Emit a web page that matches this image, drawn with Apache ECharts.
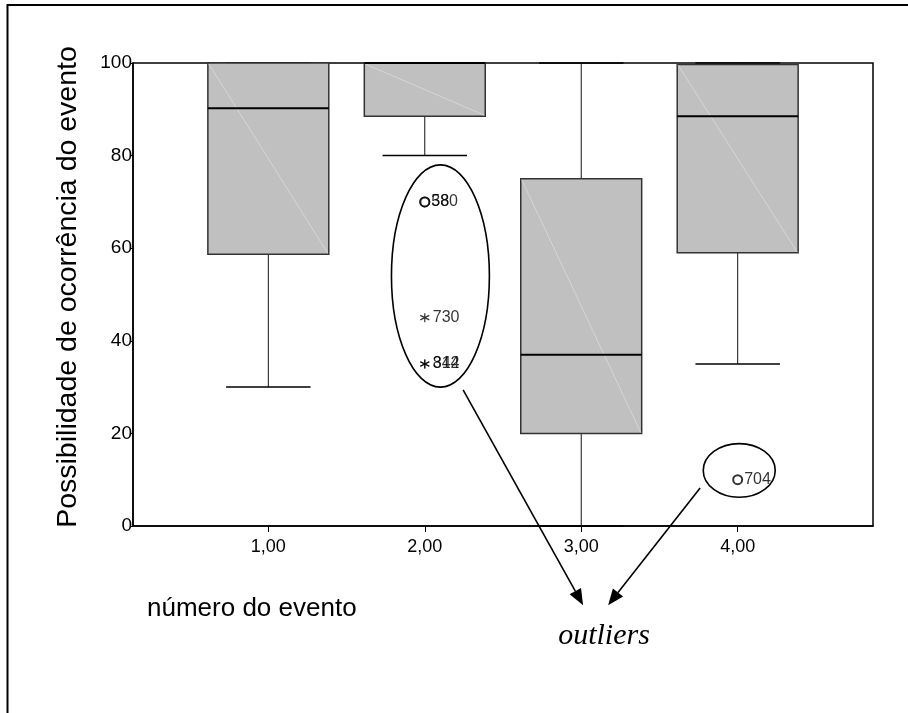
<!DOCTYPE html>
<html>
<head>
<meta charset="utf-8">
<style>
  html, body { margin: 0; padding: 0; background: #fff; }
  #chart { width: 908px; height: 713px; }
</style>
<script src="https://cdn.jsdelivr.net/npm/echarts@6/dist/echarts.min.js"></script>
</head>
<body>
<div id="chart"></div>
<script>
// Event numbers (x positions) and their tick labels
const eventIds = [1, 2, 3, 4];
const eventLabels = ['1,00', '2,00', '3,00', '4,00'];

// Five-number summary per event
const whiskerLow = [30, 80, 0, 35];
const quartile1 = [58.7, 88.5, 20, 59];
const medians = [90.2, 100, 37, 88.5];
const quartile3 = [100, 100, 75, 99.7];
const whiskerHigh = [100, 100, 100, 100];

// Outliers (circle) and extremes (asterisk): event, value, case number
const outlierEvent = [2, 2, 4];
const outlierValue = [70, 70, 10];
const outlierCase = ['580', '38', '704'];
const extremeEvent = [2, 2, 2];
const extremeValue = [45, 35, 35];
const extremeCase = ['730', '842', '314'];

// Y axis ticks
const yTicks = [0, 20, 40, 60, 80, 100];

const FONT = '"Liberation Sans", Arial, Helvetica, sans-serif';
const BOX_WIDTH = 0.773;
const CAP_WIDTH = 0.54;

const boxRows = eventIds.map((x, i) => [x, whiskerLow[i], quartile1[i], medians[i], quartile3[i], whiskerHigh[i]]);

function renderBox(params, api) {
  const x = api.value(0);
  const low = api.coord([x, api.value(1)]);
  const q1 = api.coord([x, api.value(2)]);
  const med = api.coord([x, api.value(3)]);
  const q3 = api.coord([x, api.value(4)]);
  const high = api.coord([x, api.value(5)]);
  const halfBox = api.size([BOX_WIDTH, 0])[0] / 2;
  const halfCap = api.size([CAP_WIDTH, 0])[0] / 2;
  const cx = q1[0];
  const line = (x1, y1, x2, y2, style) => ({
    type: 'line',
    shape: { x1, y1, x2, y2 },
    style: Object.assign({ stroke: '#000', lineWidth: 1 }, style)
  });
  const children = [];
  // whiskers
  if (api.value(1) < api.value(2)) {
    children.push(line(cx, q1[1], cx, low[1], { stroke: '#111' }));
  }
  children.push(line(cx - halfCap, low[1], cx + halfCap, low[1], { lineWidth: 1.5 }));
  if (api.value(5) > api.value(4)) {
    children.push(line(cx, high[1], cx, q3[1], { stroke: '#111' }));
  }
  children.push(line(cx - halfCap, high[1], cx + halfCap, high[1], { lineWidth: 1.5 }));
  // box
  children.push({
    type: 'rect',
    shape: { x: cx - halfBox, y: q3[1], width: halfBox * 2, height: q1[1] - q3[1] },
    style: { fill: '#c0c0c0', stroke: '#333', lineWidth: 1.5 }
  });
  // faint diagonal inside the box
  children.push(line(cx - halfBox + 1, q3[1] + 1, cx + halfBox - 1, q1[1] - 1, { stroke: '#d6d6d6', lineWidth: 1 }));
  // median
  children.push(line(cx - halfBox, med[1], cx + halfBox, med[1], { lineWidth: 2 }));
  return { type: 'group', children };
}

const chart = echarts.init(document.getElementById('chart'), null, { renderer: 'canvas' });

const asteriskPath = 'path://M5,0L5,10M0.67,2.5L9.33,7.5M0.67,7.5L9.33,2.5';

chart.setOption({
  animation: false,
  backgroundColor: '#fff',
  grid: {
    left: 133, right: 35, top: 63, bottom: 187,
    show: true, borderColor: '#000', borderWidth: 1.5, backgroundColor: 'transparent'
  },
  xAxis: {
    type: 'value',
    min: 0.135, max: 4.865,
    axisLine: { show: true, lineStyle: { color: '#000', width: 1.5 } },
    axisTick: { show: true, customValues: eventIds, length: 6, lineStyle: { color: '#000', width: 1 } },
    axisLabel: {
      customValues: eventIds,
      formatter: v => eventLabels[eventIds.indexOf(v)] || '',
      color: '#000', fontFamily: FONT, fontSize: 18, margin: 12
    },
    splitLine: { show: false }
  },
  yAxis: {
    type: 'value',
    min: 0, max: 100, interval: 20,
    axisLine: { show: true, lineStyle: { color: '#000', width: 1.5 } },
    axisTick: { show: true, length: 2, lineStyle: { color: '#000' } },
    axisLabel: {
      formatter: v => (yTicks.includes(v) ? String(v) : ''),
      color: '#000', fontFamily: FONT, fontSize: 19, margin: 1
    },
    splitLine: { show: false }
  },
  series: [
    {
      type: 'custom',
      renderItem: renderBox,
      clip: false,
      encode: { x: 0, y: [1, 2, 3, 4, 5] },
      data: boxRows,
      z: 2
    },
    {
      type: 'scatter',
      symbol: 'emptyCircle',
      symbolSize: 9,
      itemStyle: { color: '#000', borderWidth: 1 },
      label: {
        show: true, position: 'right', distance: 1,
        formatter: p => p.data[2],
        color: '#000', fontFamily: FONT, fontSize: 16
      },
      data: outlierEvent.map((x, i) => [x, outlierValue[i], outlierCase[i]]),
      z: 3
    },
    {
      type: 'scatter',
      symbol: asteriskPath,
      symbolSize: 9,
      itemStyle: { color: 'none', borderColor: '#000', borderWidth: 1.2 },
      label: {
        show: true, position: 'right', distance: 1,
        formatter: p => p.data[2],
        color: '#000', fontFamily: FONT, fontSize: 16
      },
      data: extremeEvent.map((x, i) => [x, extremeValue[i], extremeCase[i]]),
      z: 3
    }
  ]
});

// Annotations placed in data units: rings around outliers and arrows to the caption
const rings = [
  { center: [2.1, 54], radius: [0.313, 24] },
  { center: [4.01, 12], radius: [0.23, 5.8] }
];
const arrows = [
  { from: [2.245, 29.4], to: [3.012, -17.1] },
  { from: [3.76, 8.2], to: [3.172, -17.1] }
];

const px = p => chart.convertToPixel({ gridIndex: 0 }, p);
const graphics = [];

rings.forEach(r => {
  const c = px(r.center);
  const e = px([r.center[0] + r.radius[0], r.center[1] + r.radius[1]]);
  graphics.push({
    type: 'ellipse',
    shape: { cx: c[0], cy: c[1], rx: Math.abs(e[0] - c[0]), ry: Math.abs(e[1] - c[1]) },
    style: { fill: 'none', stroke: '#000', lineWidth: 1.6 },
    z: 10
  });
});

arrows.forEach(a => {
  const s = px(a.from);
  const t = px(a.to);
  const ang = Math.atan2(t[1] - s[1], t[0] - s[0]);
  const len = 16, half = 6.5;
  const bx = t[0] - len * Math.cos(ang), by = t[1] - len * Math.sin(ang);
  const nx = -Math.sin(ang) * half, ny = Math.cos(ang) * half;
  graphics.push({
    type: 'line',
    shape: { x1: s[0], y1: s[1], x2: bx, y2: by },
    style: { stroke: '#000', lineWidth: 1.6 },
    z: 10
  });
  graphics.push({
    type: 'polygon',
    shape: { points: [[t[0], t[1]], [bx + nx, by + ny], [bx - nx, by - ny]] },
    style: { fill: '#000' },
    z: 10
  });
});

// Outer frame (left and top edges)
graphics.push({
  type: 'polyline',
  shape: { points: [[7.5, 713], [7.5, 5], [908, 5]] },
  style: { stroke: '#000', lineWidth: 2, fill: 'none' },
  z: 10
});

// Axis titles and caption
graphics.push({
  type: 'text',
  x: 68, y: 287,
  rotation: Math.PI / 2,
  style: {
    text: 'Possibilidade de ocorrência do evento',
    font: '28.5px ' + FONT, fill: '#000',
    textAlign: 'center', textVerticalAlign: 'middle'
  },
  z: 10
});
graphics.push({
  type: 'text',
  x: 147, y: 609,
  style: {
    text: 'número do evento',
    font: '26px ' + FONT, fill: '#000',
    textAlign: 'left', textVerticalAlign: 'middle'
  },
  z: 10
});
graphics.push({
  type: 'text',
  x: 604, y: 636,
  style: {
    text: 'outliers',
    font: 'italic 30px "Liberation Serif", "Times New Roman", serif', fill: '#000',
    textAlign: 'center', textVerticalAlign: 'middle'
  },
  z: 10
});

chart.setOption({ graphic: graphics });
</script>
</body>
</html>
